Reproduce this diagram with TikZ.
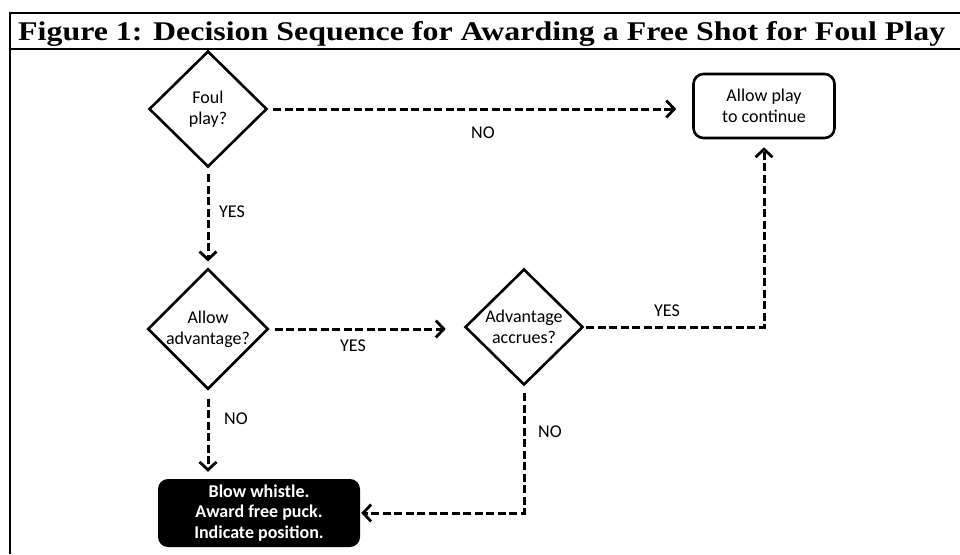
\documentclass[tikz,border=0pt]{standalone}
\usepackage{fontspec}
\usepackage{graphicx}
\setmainfont{Carlito}
\newfontfamily\titlefont{Liberation Serif}
\usetikzlibrary{shapes.geometric,arrows.meta}

\tikzset{
  decision/.style={diamond, draw, line width=2.6pt, minimum width=118pt,
    minimum height=116pt, inner sep=0pt, align=center,
    font=\fontsize{18}{21}\selectfont},
  endbox/.style={rectangle, draw, rounded corners=10pt, line width=2.6pt,
    minimum width=141pt, minimum height=64pt, align=center,
    font=\fontsize{18}{20.5}\selectfont},
  actionbox/.style={rectangle, fill=black, text=white, rounded corners=10pt,
    minimum width=202pt, minimum height=68pt, align=center,
    font=\fontsize{18}{20.5}\selectfont\bfseries},
  flow/.style={line width=3pt, dash pattern=on 8pt off 3.5pt,
    -{Straight Barb[length=8pt,width=17pt,line width=2.8pt]}},
  lbl/.style={font=\fontsize{18}{21}\selectfont}
}

\begin{document}
\begin{tikzpicture}[x=1pt,y=-1pt]
\useasboundingbox (0,0) rectangle (960,554);

% frame and title
\draw[line width=2pt] (960,12.5) -- (10,12.5) -- (10,554);
\draw[line width=2pt] (10,49) -- (960,49);
\node[anchor=base west, inner sep=0pt] (title) at (18,40)
  {\resizebox{927pt}{\height}{\titlefont\bfseries\fontsize{27}{30}\selectfont
  Figure 1: Decision Sequence for Awarding a Free Shot for Foul Play}};

% nodes
\node[decision] (foul) at (208,109) {Foul\\play?};
\node[decision] (adv) at (208,329) {Allow\\advantage?};
\node[decision] (acc) at (524,327) {Advantage\\accrues?};
\node[endbox] (play) at (764,106) {Allow play\\to continue};
\node[actionbox] (blow) at (259,513) {Blow whistle.\\Award free puck.\\Indicate position.};

% connectors
\draw[flow, shorten <=5pt, shorten >=16pt] (foul.east) -- (foul.east -| play.west);
\draw[flow, shorten <=6pt, shorten >=6pt] (foul.south) -- (adv.north);
\draw[flow, shorten <=5pt, shorten >=18pt] (adv.east) -- (adv.east -| acc.west);
\draw[flow, shorten <=2pt, shorten >=8pt] (acc.east) -| (play.south);
\draw[flow, shorten <=8pt, shorten >=7pt] (adv.south) -- (adv.south |- blow.north);
\draw[flow, shorten <=7pt, shorten >=1pt] (acc.south) |- (blow.east);

% labels
\node[lbl] (nofoul) at (483,133) {NO};
\node[lbl] (yesfoul) at (232,212) {YES};
\node[lbl] (yesadv) at (353,346) {YES};
\node[lbl] (yesacc) at (667,311) {YES};
\node[lbl] (noadv) at (236,419) {NO};
\node[lbl] (noacc) at (550,432) {NO};
\end{tikzpicture}
\end{document}
